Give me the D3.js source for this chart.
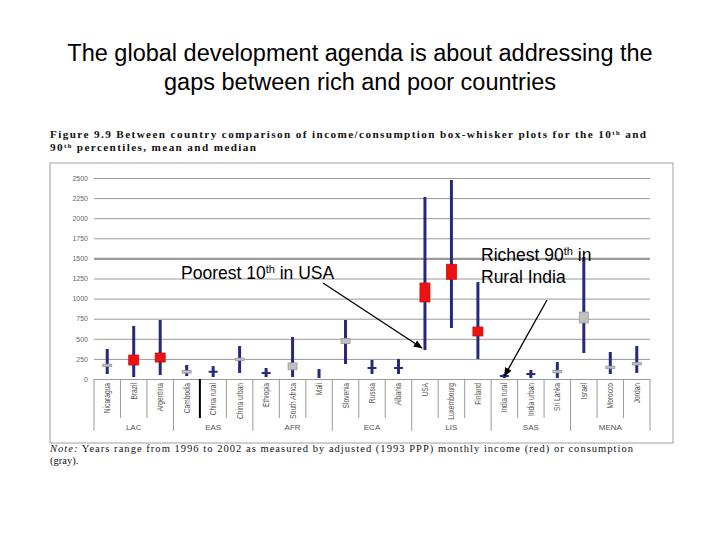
<!DOCTYPE html>
<html>
<head>
<meta charset="utf-8">
<script src="https://cdn.jsdelivr.net/npm/d3@7"></script>
<style>
  body { margin: 0; background: #fff; }
  .grid line { stroke: #9a9a9a; }
  .grid .domain { display: none; }
</style>
</head>
<body>
<div class="canva"></div>
<script>
const canvas = d3.select(".canva");

// data (monthly income / consumption, 1993 PPP)
var countries = ["Nicaragua", "Brazil", "Argentina", "Cambodia", "China rural", "China urban",
                 "Ethiopia", "South Africa", "Mali", "Slovenia", "Russia", "Albania",
                 "USA", "Luxembourg", "Finland", "India rural", "India urban", "Sri Lanka",
                 "Israel", "Morocco", "Jordan"];
var regions = ["LAC", "LAC", "LAC", "EAS", "EAS", "EAS", "AFR", "AFR", "AFR",
               "ECA", "ECA", "ECA", "LIS", "LIS", "LIS", "SAS", "SAS", "SAS",
               "MENA", "MENA", "MENA"];
var measure = ["cons", "inc", "inc", "cons", "cons", "cons", "cons", "cons", "cons",
               "cons", "cons", "cons", "inc", "inc", "inc", "cons", "cons", "cons",
               "cons", "cons", "cons"];
var p10 = [62, 25, 50, 37, 25, 75, 25, 25, 12, 187, 62, 62, 361, 634, 249, 12, 12, 12, 323, 62, 75];
var p90 = [373, 660, 734, 174, 160, 410, 137, 522, 124, 734, 236, 249, 2264, 2475, 1206, 62, 112, 211, 1517, 336, 410];
var mean = [185, 298, 323, 105, 90, 260, 75, 200, null, 505, 137, 137, 1194, 1427, 647, 37, 62, 108, 833, 160, 205];
var median = [165, 174, 211, 95, 90, 240, 75, 115, null, 440, 137, 137, 958, 1240, 535, 37, 62, 95, 697, 140, 180];

var yTicks = [0, 250, 500, 750, 1000, 1250, 1500, 1750, 2000, 2250, 2500];

const svg = canvas.append("svg")
                  .attr("width", 720)
                  .attr("height", 540);

// slide title
svg.append("text")
   .attr("x", 360).attr("y", 61)
   .attr("text-anchor", "middle")
   .style("font", "23.5px 'Liberation Sans', Arial, sans-serif")
   .text("The global development agenda is about addressing the");
svg.append("text")
   .attr("x", 360).attr("y", 90)
   .attr("text-anchor", "middle")
   .style("font", "23.5px 'Liberation Sans', Arial, sans-serif")
   .text("gaps between rich and poor countries");

// figure caption
const cap = svg.append("g")
               .style("font", "bold 11.2px 'Liberation Serif', 'Times New Roman', serif")
               .attr("fill", "#111");
cap.append("text").attr("x", 50).attr("y", 138)
   .attr("textLength", 596).attr("lengthAdjust", "spacing")
   .text("Figure 9.9  Between country comparison of income/consumption box-whisker plots for the 10\u1D57\u02B0 and");
cap.append("text").attr("x", 50).attr("y", 151)
   .attr("textLength", 206).attr("lengthAdjust", "spacing")
   .text("90\u1D57\u02B0 percentiles, mean and median");

// frame around the chart
svg.append("rect")
   .attr("x", 50).attr("y", 163)
   .attr("width", 623).attr("height", 280)
   .attr("fill", "none")
   .attr("stroke", "#a0a0a0");

const margin = {top: 178, left: 94, right: 70, bottom: 161};
const graphWidth = 720 - margin.left - margin.right;
const graphHeight = 540 - margin.top - margin.bottom;

const mainCanvas = svg.append("g")
                      .attr("transform", `translate(${margin.left},${margin.top})`);

var x = d3.scaleBand()
          .domain(countries)
          .range([0, graphWidth]);

var y = d3.scaleLinear()
          .domain([0, 2500])
          .range([graphHeight, 0]);

// gridlines + value labels
var yAxis = d3.axisLeft(y)
              .tickValues(yTicks)
              .tickSize(-graphWidth)
              .tickPadding(6)
              .tickFormat(d3.format("d"));
const gy = mainCanvas.append("g")
                     .attr("class", "grid")
                     .call(yAxis);
gy.selectAll("text")
  .style("font", "7px 'Liberation Sans', Arial, sans-serif")
  .attr("fill", "#666");
gy.selectAll(".tick")
  .filter(d => d === 1500)
  .select("line")
  .attr("stroke", "#6e6e6e")
  .attr("stroke-width", 2.2);
gy.selectAll(".tick")
  .filter(d => d === 0)
  .select("line")
  .attr("stroke", "#777");

// category separators and labels
const catAxis = mainCanvas.append("g")
                          .attr("transform", `translate(0,${graphHeight})`);
countries.forEach(function(c, i) {
  var left = x(c);
  var newGroup = i === 0 || regions[i] !== regions[i - 1];
  catAxis.append("line")
         .attr("x1", left).attr("x2", left)
         .attr("y1", 0).attr("y2", newGroup ? 52 : 39)
         .attr("stroke", c === "China rural" ? "#000" : "#9a9a9a")
         .attr("stroke-width", c === "China rural" ? 2 : 1);
  // condensed vertical labels like the scan
  catAxis.append("text")
         .attr("transform", `translate(${left + x.bandwidth() / 2 + 3},4) rotate(-90) scale(0.78,1)`)
         .attr("text-anchor", "end")
         .style("font", "8.5px 'Liberation Sans', Arial, sans-serif")
         .attr("fill", "#555")
         .text(c);
});
catAxis.append("line")
       .attr("x1", graphWidth).attr("x2", graphWidth)
       .attr("y1", 0).attr("y2", 52)
       .attr("stroke", "#9a9a9a");

// region labels
var regionNames = Array.from(new Set(regions));
regionNames.forEach(function(r) {
  var members = countries.filter((c, i) => regions[i] === r);
  var cx = (x(members[0]) + x(members[members.length - 1]) + x.bandwidth()) / 2;
  catAxis.append("text")
         .attr("x", cx).attr("y", 51)
         .attr("text-anchor", "middle")
         .style("font", "8px 'Liberation Sans', Arial, sans-serif")
         .attr("fill", "#555")
         .text(r);
});

// whiskers (10th to 90th percentile)
const cx = (d, i) => x(countries[i]) + x.bandwidth() / 2;
mainCanvas.selectAll(".whisker")
          .data(countries)
          .enter()
          .append("line")
          .attr("class", "whisker")
          .attr("x1", cx).attr("x2", cx)
          .attr("y1", (d, i) => y(p10[i]))
          .attr("y2", (d, i) => y(p90[i]))
          .attr("stroke", "#262a7a")
          .attr("stroke-width", 3);

// boxes between mean and median
var boxIdx = countries.map((c, i) => i).filter(i => mean[i] !== null);
mainCanvas.selectAll(".box")
          .data(boxIdx)
          .enter()
          .append("rect")
          .attr("class", "box")
          .attr("x", i => cx(null, i) - (measure[i] === "inc" ? 5 : 4.5))
          .attr("width", i => measure[i] === "inc" ? 10 : 9)
          .attr("y", i => mean[i] === median[i] ? y(mean[i]) - 1 : y(Math.max(mean[i], median[i])))
          .attr("height", i => mean[i] === median[i] ? 2 : Math.max(2.5, y(Math.min(mean[i], median[i])) - y(Math.max(mean[i], median[i]))))
          .attr("fill", i => mean[i] === median[i] ? "#262a7a" : (measure[i] === "inc" ? "#ee1111" : "#c0c0c0"))
          .attr("stroke", i => mean[i] === median[i] ? "none" : (measure[i] === "inc" ? "#c81010" : "#9a9a9a"))
          .attr("stroke-width", 0.8);

// annotations
svg.append("defs").append("marker")
   .attr("id", "arrow")
   .attr("viewBox", "0 0 10 10")
   .attr("refX", 9).attr("refY", 5)
   .attr("markerWidth", 7).attr("markerHeight", 7)
   .attr("orient", "auto")
   .append("path")
   .attr("d", "M0,1 L10,5 L0,9 z")
   .attr("fill", "#000");

const note1 = svg.append("text")
                 .attr("x", 181).attr("y", 279)
                 .style("font", "17.5px 'Liberation Sans', Arial, sans-serif");
note1.append("tspan").text("Poorest 10");
note1.append("tspan").attr("dy", -6).style("font-size", "11px").text("th");
note1.append("tspan").attr("dy", 6).text(" in USA");

const note2 = svg.append("text")
                 .attr("x", 481).attr("y", 261)
                 .style("font", "17.5px 'Liberation Sans', Arial, sans-serif");
note2.append("tspan").text("Richest 90");
note2.append("tspan").attr("dy", -6).style("font-size", "11px").text("th");
note2.append("tspan").attr("dy", 6).text(" in");
svg.append("text")
   .attr("x", 481).attr("y", 283)
   .style("font", "17.5px 'Liberation Sans', Arial, sans-serif")
   .text("Rural India");

svg.append("line")
   .attr("x1", 323).attr("y1", 283)
   .attr("x2", x("USA") + margin.left + x.bandwidth() / 2 - 3).attr("y2", y(p10[12]) + margin.top - 2)
   .attr("stroke", "#000").attr("stroke-width", 1.3)
   .attr("marker-end", "url(#arrow)");
svg.append("line")
   .attr("x1", 547).attr("y1", 300)
   .attr("x2", x("India rural") + margin.left + x.bandwidth() / 2).attr("y2", y(p90[15]) + margin.top + 2)
   .attr("stroke", "#000").attr("stroke-width", 1.3)
   .attr("marker-end", "url(#arrow)");

// source note
const src = svg.append("g")
               .style("font", "10.5px 'Liberation Serif', 'Times New Roman', serif")
               .attr("fill", "#111");
const s1 = src.append("text").attr("x", 50).attr("y", 452)
              .attr("textLength", 583).attr("lengthAdjust", "spacing");
s1.append("tspan").style("font-style", "italic").text("Note:");
s1.append("tspan").text("  Years range from 1996 to 2002 as measured by adjusted (1993 PPP) monthly income (red) or consumption");
src.append("text").attr("x", 50).attr("y", 464).text("(gray).");
</script>
</body>
</html>
